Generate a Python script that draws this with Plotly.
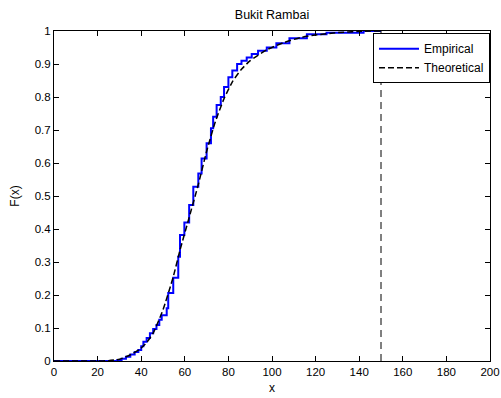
import plotly.graph_objects as go

# ---- data ----
# Empirical CDF: step positions (x) and the CDF level after each step
emp_x = [0, 29, 31, 33, 35, 37, 38.7, 40, 41, 42.5, 44, 45.5, 47, 48.3, 49.4, 51.7,
         52.4, 54.7, 57.0, 57.8, 59.8, 62.0, 63.9, 66.2, 67.7, 70.0, 72.0, 73.0,
         74.6, 76.5, 78.0, 80.0, 81.8, 84.0, 86.0, 88.4, 90.7, 93.6, 97.6, 102.0,
         108.0, 116.0, 125.0, 142.0, 150.0]
emp_F = [0, 0.003, 0.007, 0.013, 0.02, 0.027, 0.033, 0.045, 0.058, 0.07, 0.084, 0.097,
         0.109, 0.125, 0.139, 0.16, 0.206, 0.252, 0.316, 0.382, 0.42, 0.473, 0.528,
         0.568, 0.614, 0.66, 0.705, 0.74, 0.776, 0.80, 0.83, 0.86, 0.88, 0.90, 0.91,
         0.92, 0.93, 0.94, 0.95, 0.963, 0.978, 0.99, 0.995, 1.0, 1.0]

# Theoretical CDF
theo_x = [0, 20, 25, 30, 33, 36, 39.4, 42.5, 45.6, 50, 54.7, 57.8, 62, 66.2, 70, 74,
          78, 82, 86, 90, 97.6, 105, 113, 120, 130, 140, 150]
theo_F = [0, 0.0, 0.001, 0.005, 0.013, 0.022, 0.036, 0.056, 0.086, 0.155, 0.255, 0.336,
          0.435, 0.535, 0.635, 0.725, 0.795, 0.848, 0.884, 0.91, 0.943, 0.964, 0.98,
          0.988, 0.995, 0.999, 1.0]

# Vertical reference line
ref_x = [150, 150]
ref_F = [0, 1]

x_ticks = [0, 20, 40, 60, 80, 100, 120, 140, 160, 180, 200]
y_ticks = [0, 0.1, 0.2, 0.3, 0.4, 0.5, 0.6, 0.7, 0.8, 0.9, 1]
y_tick_text = ["0", "0.1", "0.2", "0.3", "0.4", "0.5", "0.6", "0.7", "0.8", "0.9", "1"]

FONT = "Liberation Sans, Arial, sans-serif"

fig = go.Figure()
fig.add_trace(go.Scatter(x=emp_x, y=emp_F, mode="lines", name="Empirical",
                         line=dict(color="#0000ff", width=2, shape="hv")))
fig.add_trace(go.Scatter(x=theo_x, y=theo_F, mode="lines", name="Theoretical",
                         line=dict(color="black", width=1.5, dash="6px,3px", shape="spline",
                                   smoothing=0.5)))
fig.add_trace(go.Scatter(x=ref_x, y=ref_F, mode="lines", showlegend=False,
                         line=dict(color="black", width=1, dash="7px,5px")))

axis_common = dict(showline=True, linecolor="black", linewidth=1, mirror="allticks",
                   ticks="inside", ticklen=5, tickcolor="black", showgrid=False,
                   zeroline=False, automargin=False,
                   tickfont=dict(family=FONT, size=11.5, color="black"))

fig.update_layout(
    width=501, height=398,
    margin=dict(l=54, r=11, t=31, b=37, autoexpand=False),
    paper_bgcolor="white", plot_bgcolor="white",
    font=dict(family=FONT, size=12, color="black"),
    title=dict(text="Bukit Rambai", x=0.5, xanchor="center", xref="paper",
               y=1 - 15 / 398, yanchor="middle", font=dict(family=FONT, size=12.5)),
    xaxis=dict(range=[0, 200], tickvals=x_ticks, title=dict(text="x", standoff=6,
               font=dict(family=FONT, size=12)), **axis_common),
    yaxis=dict(range=[0, 1], tickvals=y_ticks, ticktext=y_tick_text,
               title=dict(text="F(x)", standoff=12, font=dict(family=FONT, size=12)),
               **axis_common),
    legend=dict(x=1.0, y=0.993, xanchor="right", yanchor="top",
                bordercolor="black", borderwidth=1, bgcolor="white",
                font=dict(family=FONT, size=12), tracegroupgap=0, itemwidth=40),
    showlegend=True,
)

fig.write_html("out.html")
